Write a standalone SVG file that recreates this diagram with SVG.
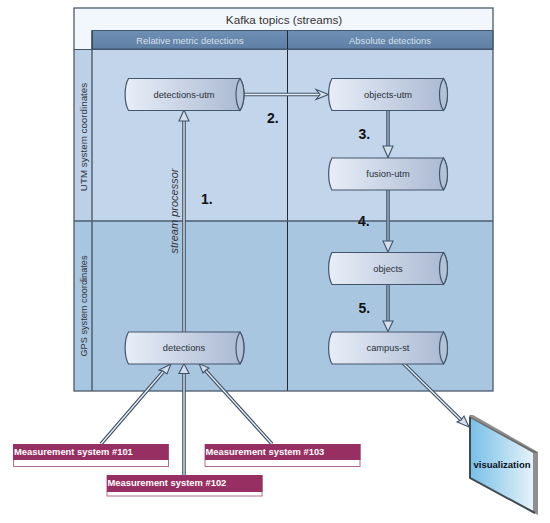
<svg xmlns="http://www.w3.org/2000/svg" width="550" height="523" viewBox="0 0 550 523">
<style>
text{font-family:"Liberation Sans",Arial,sans-serif;fill:#333}
.l{font-size:9.800px;text-anchor:middle}
.h{font-size:9.400px;text-anchor:middle;fill:#d5e0ec}
.s{font-size:9.300px;text-anchor:middle;fill:#2a3038}
.n{font-size:14px;font-weight:bold;fill:#111}
.m{font-size:9.400px;font-weight:bold;fill:#fff}
.body{fill:url(#cyl);stroke:#44566b;stroke-width:1.200}
.cap{fill:#b4c2d8;stroke:#44566b;stroke-width:1.200}
.a0{fill:none;stroke:#3f5266;stroke-width:3.600}
.a1{fill:none;stroke:#e8eef5;stroke-width:1.300}
.a2{fill:none;stroke:#7f93ad;stroke-width:2.200}
.hd{fill:#d4e0ee;stroke:#3f5266;stroke-width:1.100}
.mag{fill:#982f62}
.wh{fill:#fff;stroke:#b46a90;stroke-width:1}
</style>
<defs>
<linearGradient id="cyl" x1="0" x2="1" y1="0" y2="0"><stop offset="0" stop-color="#e8eef7"/><stop offset="1" stop-color="#a9b8d2"/></linearGradient>
<linearGradient id="hdr" x1="0" x2="0" y1="0" y2="1"><stop offset="0" stop-color="#6f90b4"/><stop offset="1" stop-color="#5f7fa5"/></linearGradient>
<linearGradient id="scr" x1="0" x2="1" y1="0" y2="0"><stop offset="0" stop-color="#78bfe6"/><stop offset="1" stop-color="#e4f2f9"/></linearGradient>
<symbol id="c" overflow="visible"><path class="body" d="M3.500 0H115C120.300 8 120.300 24 115 32H3.500C-1 24 -1 8 3.500 0Z"/><path class="cap" d="M115 0C109.700 8 109.700 24 115 32C120.300 24 120.300 8 115 0Z"/></symbol>
</defs>
<rect width="550" height="523" fill="#fff"/>
<g id="frame">
<rect x="74" y="8" width="419" height="383" fill="#f2f7fd"/>
<rect x="92" y="49" width="401" height="172" fill="#c3d5ea"/>
<rect x="74" y="49" width="18" height="172" fill="#bcd0e7"/>
<rect x="74" y="221" width="419" height="170" fill="#a9c6e0"/>
<rect x="92" y="30.500" width="401" height="18.500" fill="url(#hdr)" stroke="#44566b"/>
<path d="M92 30.500V391M287.500 30.500V391" stroke="#1f2a36" fill="none"/>
<path d="M74 49.500H493" stroke="#44566b" fill="none"/>
<path d="M74 221H493" stroke="#4a5c70" stroke-width="1.500" fill="none"/>
<rect x="74" y="8" width="419" height="383" fill="none" stroke="#4a5a6b" stroke-width="1.300"/>
<text x="284" y="23.500" text-anchor="middle" style="font-size:11.700px">Kafka topics (streams)</text>
<text class="h" x="190" y="43.500">Relative metric detections</text>
<text class="h" x="390" y="43.500">Absolute detections</text>
<text class="l" transform="translate(87 137) rotate(-90)">UTM system coordinates</text>
<text class="l" transform="translate(87 306) rotate(-90)" style="font-size:9.200px">GPS system coordinates</text>
</g>
<g id="connectors">
<path class="a0" d="M184 332V121"/><path class="a1" d="M184 332V121"/><path class="hd" d="M184 110L179 121H189Z"/>
<path class="a0" d="M244 94.500H319"/><path class="a1" d="M244 94.500H319"/><path class="hd" d="M328.500 94.500L316 89.500 320 94.500 316 99.500Z"/>
<path class="a0" d="M388 108V146"/><path class="a2" d="M388 108V146"/><path class="hd" d="M388 157.500L383 146H393Z"/>
<path class="a0" d="M388 188V241"/><path class="a2" d="M388 188V241"/><path class="hd" d="M388 252L383 241H393Z"/>
<path class="a0" d="M388 283V321"/><path class="a2" d="M388 283V321"/><path class="hd" d="M388 331.500L383 321H393Z"/>
<path class="a0" d="M101 444L163 372"/><path class="a1" d="M101 444L163 372"/><path class="hd" d="M171 364L159 370 163 371 167 374Z"/>
<path class="a0" d="M184 475V373"/><path class="a1" d="M184 475V373"/><path class="hd" d="M184 363.500L179 373.500H189Z"/>
<path class="a0" d="M272 444L206 371"/><path class="a1" d="M272 444L206 371"/><path class="hd" d="M199 363.500L203 373 206 370 209 368Z"/>
<path class="a0" d="M403 363L461 420"/><path class="a1" d="M403 363L461 420"/><path class="hd" d="M469 427L464 416 461 420 457 422Z"/>
</g>
<g id="detections-utm"><use href="#c" x="125" y="78.500"/><text class="s" x="184" y="97.500">detections-utm</text></g>
<g id="objects-utm"><use href="#c" x="328.500" y="78.500"/><text class="s" x="388" y="97.500">objects-utm</text></g>
<g id="fusion-utm"><use href="#c" x="328.500" y="158"/><text class="s" x="388" y="177">fusion-utm</text></g>
<g id="objects"><use href="#c" x="328.500" y="252.500"/><text class="s" x="388" y="271.500">objects</text></g>
<g id="campus-st"><use href="#c" x="328.500" y="332"/><text class="s" x="388" y="351">campus-st</text></g>
<g id="detections"><use href="#c" x="125" y="332"/><text class="s" x="184" y="351">detections</text></g>
<g id="labels">
<text class="n" x="267" y="123">2.</text>
<text class="n" x="358.500" y="139">3.</text>
<text class="n" x="201" y="204">1.</text>
<text class="n" x="358" y="226">4.</text>
<text class="n" x="358.500" y="313">5.</text>
<text class="l" transform="translate(178 211) rotate(-90)" style="font-style:italic;font-size:11px">stream processor</text>
</g>
<g id="measurement-101"><rect class="wh" x="13.500" y="444.500" width="155" height="22"/><rect class="mag" x="13" y="444" width="155.500" height="16"/><text class="m" x="14" y="454.500">Measurement system #101</text></g>
<g id="measurement-102"><rect class="wh" x="107" y="475.500" width="155" height="20.500"/><rect class="mag" x="107" y="475" width="155.500" height="17"/><text class="m" x="107.500" y="485.500">Measurement system #102</text></g>
<g id="measurement-103"><rect class="wh" x="205" y="444.500" width="155" height="22"/><rect class="mag" x="205" y="444" width="155.500" height="16"/><text class="m" x="205.500" y="454.500">Measurement system #103</text></g>
<g id="visualization">
<path d="M469 415L473 415 538 452 538 515 534 513Z" fill="#8f8f8f"/>
<path d="M469 416L538 453 534 453 469 418Z" fill="#6d6d6d"/>
<path d="M470 418L533 453V511L470 477Z" fill="url(#scr)"/>
<path d="M470 417V478L535 513" fill="none" stroke="#3f4a55" stroke-width="2"/>
<text x="502" y="468" text-anchor="middle" style="font-size:9.500px;font-weight:bold;fill:#0a1020">visualization</text>
</g>
</svg>
